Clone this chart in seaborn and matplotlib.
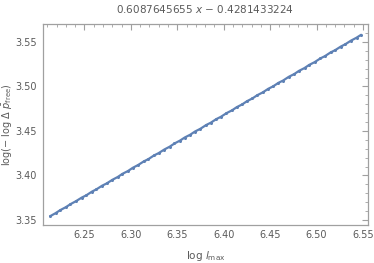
import numpy as np
import pandas as pd
import seaborn as sns
import matplotlib
matplotlib.use("Agg")
import matplotlib.pyplot as plt
from matplotlib.ticker import MultipleLocator

# log l_max values
log_lmax = [6.213, 6.219, 6.224, 6.230, 6.235, 6.241, 6.247, 6.252, 6.258, 6.263,
            6.269, 6.274, 6.280, 6.286, 6.291, 6.297, 6.302, 6.308, 6.314, 6.319,
            6.325, 6.330, 6.336, 6.342, 6.347, 6.353, 6.358, 6.364, 6.369, 6.375,
            6.381, 6.386, 6.392, 6.397, 6.403, 6.409, 6.414, 6.420, 6.425, 6.431,
            6.436, 6.442, 6.448, 6.453, 6.459, 6.464, 6.470, 6.476, 6.481, 6.487,
            6.492, 6.498, 6.504, 6.509, 6.515, 6.520, 6.526, 6.531, 6.537, 6.543,
            6.548]
# log(-log dp_free)
log_dp = [3.3541, 3.3576, 3.3610, 3.3643, 3.3677, 3.3711, 3.3750, 3.3776, 3.3817, 3.3844,
          3.3884, 3.3910, 3.3950, 3.3983, 3.4018, 3.4050, 3.4085, 3.4118, 3.4158, 3.4184,
          3.4225, 3.4251, 3.4291, 3.4324, 3.4359, 3.4392, 3.4426, 3.4458, 3.4493, 3.4525,
          3.4566, 3.4592, 3.4633, 3.4659, 3.4700, 3.4732, 3.4767, 3.4799, 3.4834, 3.4866,
          3.4901, 3.4933, 3.4974, 3.5000, 3.5041, 3.5067, 3.5108, 3.5140, 3.5175, 3.5207,
          3.5242, 3.5274, 3.5315, 3.5341, 3.5382, 3.5408, 3.5448, 3.5475, 3.5515, 3.5548,
          3.5581]

df = pd.DataFrame({"x": log_lmax, "y": log_dp})

sns.set_style("white")
plt.rcParams["font.family"] = ["DejaVu Sans"]
plt.rcParams["mathtext.fontset"] = "dejavusans"

fig = plt.figure(figsize=(3.74, 2.63), dpi=100)
ax = fig.add_axes([0.114, 0.145, 0.870, 0.764])

sns.lineplot(data=df, x="x", y="y", ax=ax, color="#5E81B5", linewidth=1.6,
             marker="o", markersize=2.2, markeredgewidth=0)

ax.set_xlim(6.205, 6.5554)
ax.set_ylim(3.3444, 3.5703)
ax.xaxis.set_major_locator(MultipleLocator(0.05))
ax.xaxis.set_minor_locator(MultipleLocator(0.01))
ax.yaxis.set_major_locator(MultipleLocator(0.05))
ax.yaxis.set_minor_locator(MultipleLocator(0.01))
ax.xaxis.set_major_formatter(matplotlib.ticker.FormatStrFormatter("%.2f"))
ax.yaxis.set_major_formatter(matplotlib.ticker.FormatStrFormatter("%.2f"))

frame = "#a0a0a0"
for s in ax.spines.values():
    s.set_color(frame)
    s.set_linewidth(0.9)
ax.tick_params(which="both", direction="in", top=True, right=True,
               color=frame, labelcolor="#5a5a5a", labelsize=7)
ax.tick_params(which="major", length=4, width=0.8, pad=4)
ax.tick_params(which="minor", length=2, width=0.6)

ax.set_xlabel(r"log $l_{\rm max}$", fontsize=7.5, color="#5a5a5a", labelpad=6)
ax.set_ylabel(r"log($-$ log $\Delta$ $\bar{p}_{\rm free}$)", fontsize=7,
              color="#5a5a5a")
ax.yaxis.set_label_coords(-0.085, 0.5)
ax.set_title(r"0.6087645655 $x$ $-$ 0.4281433224", fontsize=7.5,
             color="#5a5a5a", pad=8)

fig.savefig("out.png", dpi=100)
